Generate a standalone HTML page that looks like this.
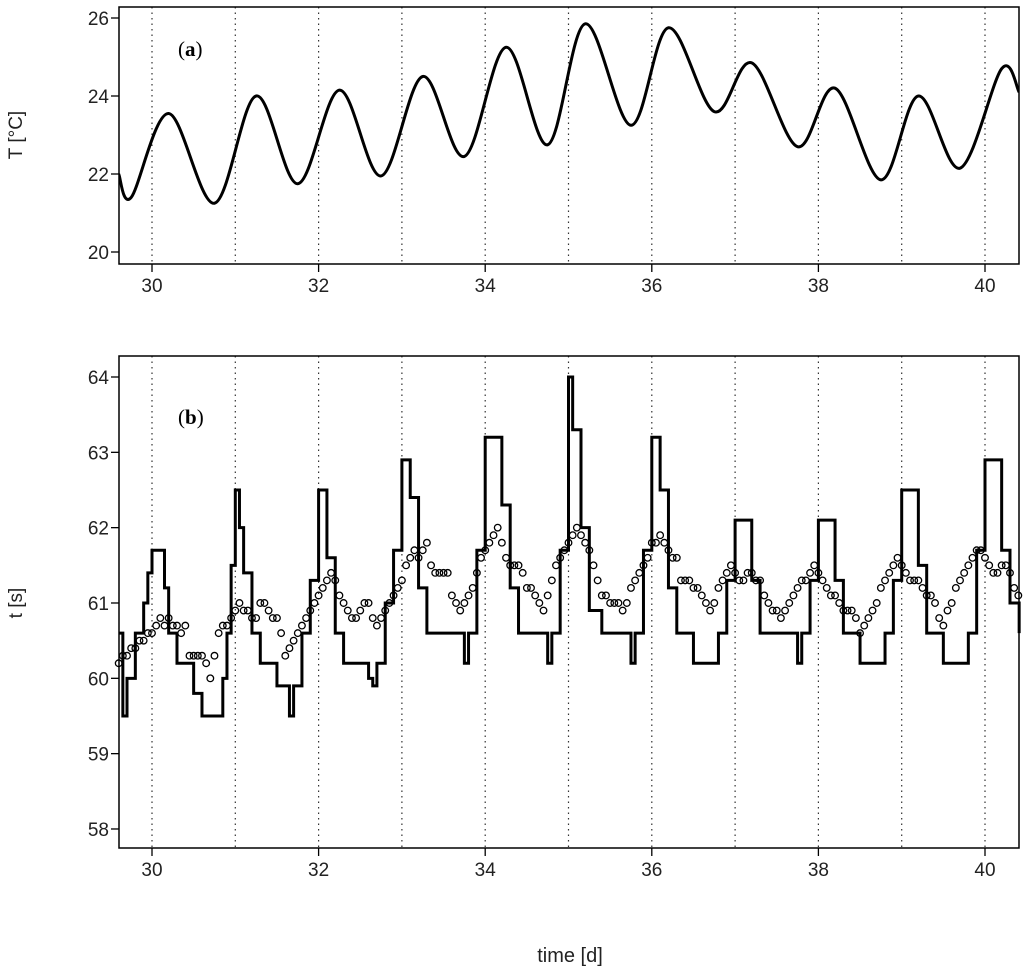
<!DOCTYPE html>
<html><head><meta charset="utf-8">
<style>
body{margin:0;background:#fff;}
svg{display:block;font-family:"Liberation Sans",sans-serif;}
</style></head>
<body>
<svg id="chart" width="1024" height="971" viewBox="0 0 1024 971"></svg>
<script>
// Panel (a) temperature: key points (time in days, temperature °C)
const tempTimes = [29.6,29.75,30.2,30.75,31.25,31.75,32.25,32.75,33.25,33.75,34.25,34.75,35.2,35.75,36.2,36.75,37.2,37.75,38.2,38.75,39.2,39.7,40.2,40.41];
const tempValues = [22.0,21.4,23.55,21.25,24.0,21.75,24.15,21.95,24.5,22.45,25.25,22.75,25.85,23.25,25.75,23.6,24.85,22.7,24.2,21.85,24.0,22.15,24.7,24.1];
// Panel (b) step line
const stepTimes = [29.6,29.65,29.7,29.8,29.9,29.95,30.0,30.1,30.15,30.2,30.3,30.4,30.5,30.6,30.8,30.85,30.9,30.95,31.0,31.05,31.1,31.2,31.3,31.4,31.5,31.6,31.65,31.7,31.8,31.9,32.0,32.1,32.2,32.3,32.5,32.6,32.65,32.7,32.8,32.9,33.0,33.1,33.2,33.3,33.7,33.75,33.8,33.9,34.0,34.1,34.2,34.3,34.4,34.7,34.75,34.8,34.9,35.0,35.05,35.15,35.25,35.4,35.7,35.75,35.8,35.9,36.0,36.1,36.2,36.3,36.5,36.7,36.8,36.9,37.0,37.1,37.2,37.3,37.7,37.75,37.8,37.9,38.0,38.1,38.2,38.3,38.5,38.7,38.8,38.9,39.0,39.1,39.2,39.3,39.5,39.7,39.8,39.9,40.0,40.1,40.2,40.3,40.41];
const stepValues = [60.6,59.5,60.0,60.6,61.0,61.4,61.7,61.7,61.2,60.6,60.2,60.2,59.8,59.5,59.5,60.0,60.6,61.5,62.5,62.0,61.4,60.6,60.2,60.2,59.9,59.9,59.5,59.9,60.6,61.3,62.5,61.6,60.6,60.2,60.2,60.0,59.9,60.2,61.0,61.7,62.9,62.4,61.2,60.6,60.6,60.2,60.6,61.7,63.2,63.2,62.3,61.2,60.6,60.6,60.2,60.6,61.7,64.0,63.3,62.0,60.9,60.6,60.6,60.2,60.6,61.7,63.2,62.5,61.2,60.6,60.2,60.2,60.6,61.3,62.1,62.1,61.3,60.6,60.6,60.2,60.6,61.3,62.1,62.1,61.3,60.6,60.2,60.2,60.6,61.3,62.5,62.5,61.5,60.6,60.2,60.2,60.6,61.7,62.9,62.9,61.7,61.0,60.6];
// Panel (b) observed points, every 0.05 d starting at 29.6
const obsStart = 29.6;
const obsStep = 0.05;
const obsValues = [
60.2,60.3,60.3,60.4,60.4,60.5,60.5,60.6,60.6,60.7,60.8,60.7,60.8,60.7,60.7,60.6,60.7,60.3,60.3,60.3,
60.3,60.2,60.0,60.3,60.6,60.7,60.7,60.8,60.9,61.0,60.9,60.9,60.8,60.8,61.0,61.0,60.9,60.8,60.8,60.6,
60.3,60.4,60.5,60.6,60.7,60.8,60.9,61.0,61.1,61.2,61.3,61.4,61.3,61.1,61.0,60.9,60.8,60.8,60.9,61.0,
61.0,60.8,60.7,60.8,60.9,61.0,61.1,61.2,61.3,61.5,61.6,61.7,61.6,61.7,61.8,61.5,61.4,61.4,61.4,61.4,
61.1,61.0,60.9,61.0,61.1,61.2,61.4,61.6,61.7,61.8,61.9,62.0,61.8,61.6,61.5,61.5,61.5,61.4,61.2,61.2,
61.1,61.0,60.9,61.1,61.3,61.5,61.6,61.7,61.8,61.9,62.0,61.9,61.8,61.7,61.5,61.3,61.1,61.1,61.0,61.0,
61.0,60.9,61.0,61.2,61.3,61.4,61.5,61.6,61.8,61.8,61.9,61.8,61.7,61.6,61.6,61.3,61.3,61.3,61.2,61.2,
61.1,61.0,60.9,61.0,61.2,61.3,61.4,61.5,61.4,61.3,61.3,61.4,61.4,61.3,61.3,61.1,61.0,60.9,60.9,60.8,
60.9,61.0,61.1,61.2,61.3,61.3,61.4,61.5,61.4,61.3,61.2,61.1,61.1,61.0,60.9,60.9,60.9,60.8,60.6,60.7,
60.8,60.9,61.0,61.2,61.3,61.4,61.5,61.6,61.5,61.4,61.3,61.3,61.3,61.2,61.1,61.1,61.0,60.8,60.7,60.9,
61.0,61.2,61.3,61.4,61.5,61.6,61.7,61.7,61.6,61.5,61.4,61.4,61.5,61.5,61.4,61.2,61.1];
const xTicks = [30,32,34,36,38,40];
const gridDays = [30,31,32,33,34,35,36,37,38,39,40];
const yTicksA = [20,22,24,26];
const yTicksB = [58,59,60,61,62,63,64];

const NS = "http://www.w3.org/2000/svg";
const svg = document.getElementById('chart');
function mk(tag, attrs, parent){const e=document.createElementNS(NS,tag);for(const k in attrs)e.setAttribute(k,attrs[k]);(parent||svg).appendChild(e);return e;}
const L=119,R=1019;
const xs = t => 152 + (t-30)*83.3;
const yA = v => 18 + (26-v)*39;
const yB = v => 377 + (64-v)*75.33;

function panel(top,bottom,yscale,yticks,name,label,tag,tagY,labelY){
  const g=mk('g',{});
  
  
  gridDays.forEach(d=>{const l=mk('line',{x1:xs(d),x2:xs(d),y1:top,y2:bottom,stroke:'#333','stroke-width':1.2,'stroke-dasharray':'1.5,4'},g);
    });
  const b=mk('rect',{x:L,y:top,width:R-L,height:bottom-top,fill:'none',stroke:'#000','stroke-width':1.5},g);
  
  xTicks.forEach(t=>{mk('line',{x1:xs(t),x2:xs(t),y1:bottom,y2:bottom+8,stroke:'#000','stroke-width':1.3},g);
    const tx=mk('text',{x:xs(t),y:bottom+28,'text-anchor':'middle','font-size':19,fill:'#222'},g);tx.textContent=t;
    });
  yticks.forEach(v=>{mk('line',{x1:L,x2:L-8,y1:yscale(v),y2:yscale(v),stroke:'#000','stroke-width':1.3},g);
    const tx=mk('text',{x:L-10,y:yscale(v)+7,'text-anchor':'end','font-size':19,fill:'#222'},g);tx.textContent=v;
    });
  const yl=mk('text',{x:22,y:labelY,'text-anchor':'middle','font-size':19,fill:'#222',transform:`rotate(-90 22 ${labelY})`},g);yl.textContent=label;
  
  const pt=mk('text',{x:178,y:tagY,'font-size':21,'font-family':'Liberation Serif, serif',fill:'#000'},g);
  pt.innerHTML='(<tspan font-weight="bold">'+tag+'</tspan>)';
  
  return g;
}
const gA=panel(7,264,yA,yTicksA,'panel-a-temperature','T [°C]','a',56,135);
const gB=panel(356,848,yB,yTicksB,'panel-b-time','t [s]','b',424,603);

// smooth temperature curve (Catmull-Rom through key points)
const clipA=mk('clipPath',{id:'ca'});mk('rect',{x:L,y:7,width:R-L,height:257},clipA);
const pts=tempTimes.map((t,i)=>[xs(t),yA(tempValues[i])]);
let d='M'+pts[0][0]+','+pts[0][1];
for(let i=0;i<pts.length-1;i++){
  const p0=pts[Math.max(0,i-1)],p1=pts[i],p2=pts[i+1],p3=pts[Math.min(pts.length-1,i+2)];
  const c1=[p1[0]+(p2[0]-p0[0])/6,p1[1]+(p2[1]-p0[1])/6];
  const c2=[p2[0]-(p3[0]-p1[0])/6,p2[1]-(p3[1]-p1[1])/6];
  d+=` C${c1[0]},${c1[1]} ${c2[0]},${c2[1]} ${p2[0]},${p2[1]}`;
}
const tl=mk('path',{d:d,fill:'none',stroke:'#000','stroke-width':3,'clip-path':'url(#ca)'},gA);



// step line
let sd='';
stepTimes.forEach((t,i)=>{
  const x=xs(t),y=yB(stepValues[i]);
  if(i===0) sd='M'+x+','+y; else sd+=` H${x} V${y}`;
});
const sl=mk('path',{d:sd,fill:'none',stroke:'#000','stroke-width':3,'stroke-linejoin':'miter'},gB);



obsValues.forEach((v,i)=>{
  const t=obsStart+i*obsStep;
  const c=mk('circle',{cx:xs(t),cy:yB(v),r:3.3,fill:'none',stroke:'#000','stroke-width':1.3},gB);
  
  
});

const xt=mk('text',{x:570,y:962,'text-anchor':'middle','font-size':20,fill:'#222'});
xt.textContent='time [d]';


</script>
</body></html>
